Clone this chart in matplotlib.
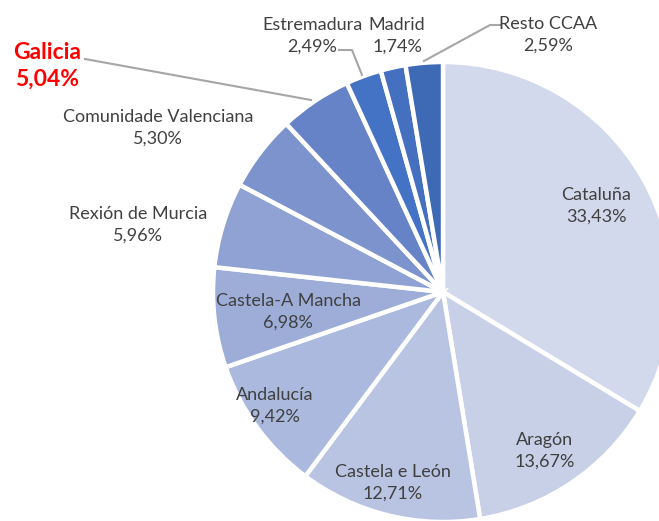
import matplotlib
matplotlib.use("Agg")
import matplotlib.pyplot as plt

regions = ["Cataluña", "Aragón", "Castela e León", "Andalucía", "Castela-A Mancha",
           "Rexión de Murcia", "Comunidade Valenciana", "Galicia", "Estremadura",
           "Madrid", "Resto CCAA"]
shares = [33.43, 13.67, 12.71, 9.42, 6.98, 5.96, 5.30, 5.04, 2.49, 1.74, 2.59]
pct_labels = ["33,43%", "13,67%", "12,71%", "9,42%", "6,98%", "5,96%", "5,30%",
              "5,04%", "2,49%", "1,74%", "2,59%"]
colors = ["#D3D9EC", "#C8D0E8", "#B9C4E3", "#ABB9DE", "#9DADD8", "#8FA2D3",
          "#7C93CD", "#6683C8", "#4472C4", "#4570BF", "#3E69B4"]

W, H = 659, 521
fig = plt.figure(figsize=(W / 100, H / 100), dpi=100)
ax = fig.add_axes([0, 0, 1, 1])

cx, cy, R = 443, H - 292, 230
ax.pie(shares, colors=colors, startangle=90, counterclock=False,
       center=(cx, cy), radius=R, frame=True,
       wedgeprops=dict(edgecolor="white", linewidth=3.2))
ax.set_xlim(0, W)
ax.set_ylim(0, H)
ax.set_aspect("equal")
ax.axis("off")

font = "Lato"
txt_color = "#404040"
fs = 13

# label positions in pixel coords (x, y of centre of two-line block)
label_pos = {
    "Cataluña": (596, 206),
    "Aragón": (545, 451),
    "Castela e León": (393, 483),
    "Andalucía": (275, 406),
    "Castela-A Mancha": (288, 312),
    "Rexión de Murcia": (138, 225),
    "Comunidade Valenciana": (158, 128),
    "Estremadura": (312, 36),
    "Madrid": (397, 36),
    "Resto CCAA": (548, 35),
}

for name, pct in zip(regions, pct_labels):
    if name == "Galicia":
        continue
    x, y = label_pos[name]
    ax.text(x, H - y, f"{name}\n{pct}", ha="center", va="center",
            fontsize=fs, color=txt_color, family=font, linespacing=1.4)

# Galicia highlighted
gi = regions.index("Galicia")
ax.text(47, H - 66, f"{regions[gi]}\n{pct_labels[gi]}", ha="center", va="center",
        fontsize=16.5, color="#FF0000", family=font, fontweight="bold", linespacing=1.3)

line_c = "#A6A6A6"
ax.plot([85, 311], [H - 59, H - 100], color=line_c, lw=1.5)
ax.plot([339, 352, 362], [H - 50, H - 50, H - 75], color=line_c, lw=1.5)
ax.plot([501, 490, 424], [H - 25, H - 25, H - 61], color=line_c, lw=1.5)

fig.savefig("out.png", dpi=100, facecolor="white")
